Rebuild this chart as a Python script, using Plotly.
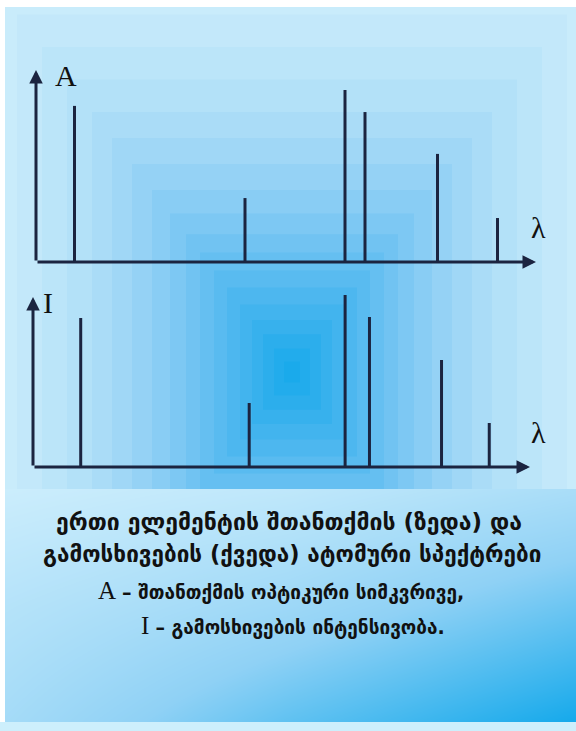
import plotly.graph_objects as go

# ── Data ───────────────────────────────────────────────────────────────────────

# absorption spectrum (top): line positions (wavelength, a.u.) and optical density A
lam_absorb = [7.7, 41.8, 61.8, 65.8, 80.3, 92.3]
absorb = [81.3, 33.3, 89.6, 78.1, 56.3, 22.9]

# emission spectrum (bottom): line positions and intensity I
lam_emit = [9.6, 43.5, 62.8, 67.7, 82.2, 91.8]
emit = [87.6, 37.6, 101.2, 88.2, 62.9, 25.9]

caption_lines = [
    "ერთი ელემენტის შთანთქმის (ზედა) და",
    "გამოსხივების (ქვედა) ატომური სპექტრები",
]
legend_lines = [
    ("A", "შთანთქმის ოპტიკური სიმკვრივე,"),
    ("I", "გამოსხივების ინტენსივობა."),
]

# ── Helpers ────────────────────────────────────────────────────────────────────

W, H = 576, 731
INK = "#1b2440"
SERIF = "Liberation Serif"
GEO = "DejaVu Sans"


def px(x):
    return x / W


def py(y):
    return 1 - y / H


def sticks(xs, ys):
    X, Y = [], []
    for x, y in zip(xs, ys):
        X += [x, x, None]
        Y += [0, y, None]
    return X, Y


def axis_arrow(xr, yr, x, y, ax, ay):
    return dict(xref=xr, yref=yr, axref=xr, ayref=yr, x=x, y=y, ax=ax, ay=ay,
                text="", showarrow=True, arrowhead=2, arrowsize=0.9,
                arrowwidth=3, arrowcolor=INK, standoff=0)


def label(text, x, y, size=30, family=SERIF):
    return dict(xref="paper", yref="paper", x=px(x), y=py(y), text=text,
                showarrow=False, xanchor="center", yanchor="middle",
                font=dict(family=family, size=size, color="#111111"))


# ── Background: square gradient bands (half-width px, colour) ──────────────────

cx, cy, ratio = 292, 372, 1.3
bands = [
    (275, "#c3e8fa"), (250, "#bbe5f9"), (225, "#b3e1f8"), (200, "#aadcf7"),
    (180, "#a0d7f6"), (160, "#95d2f5"), (140, "#89cdf4"), (122, "#7dc8f3"),
    (106, "#71c3f2"), (92, "#65bff1"), (78, "#59bbf0"), (65, "#4db7ef"),
    (52, "#42b4ee"), (40, "#37b1ed"), (29, "#2caeec"), (18, "#22acec"),
    (8, "#1aaaeb"),
]

shapes = [
    dict(type="rect", xref="paper", yref="paper", x0=px(5), x1=1,
         y0=py(722), y1=py(7), fillcolor="#c9ecfb", line_width=0, layer="below"),
    dict(type="rect", xref="paper", yref="paper", x0=0, x1=1,
         y0=0, y1=py(722), fillcolor="#cdeffc", line_width=0, layer="below"),
]
for half, col in bands:
    shapes.append(dict(
        type="rect", xref="paper", yref="paper",
        x0=px(max(cx - half, 5)), x1=px(min(cx + half, W)),
        y0=py(min(cy + half * ratio, 722)), y1=py(max(cy - half * ratio, 7)),
        fillcolor=col, line_width=0, layer="below"))

# ── Figure ─────────────────────────────────────────────────────────────────────

fig = go.Figure()

# caption panel gradient
fig.add_trace(go.Heatmap(
    x=[0, 1, 2], y=[0, 1, 2],
    z=[[0.32, 0.70, 1.00],
       [0.18, 0.38, 0.65],
       [0.00, 0.10, 0.28]],
    zmin=0, zmax=1, zsmooth="best", showscale=False, hoverinfo="skip",
    colorscale=[[0, "#cbedfc"], [0.5, "#8fd1f5"], [1, "#15a9eb"]],
    xaxis="x3", yaxis="y3"))

X, Y = sticks(lam_absorb, absorb)
fig.add_trace(go.Scatter(x=X, y=Y, mode="lines", name="A",
                         line=dict(color=INK, width=3), hoverinfo="skip"))
X, Y = sticks(lam_emit, emit)
fig.add_trace(go.Scatter(x=X, y=Y, mode="lines", name="I",
                         line=dict(color=INK, width=3), hoverinfo="skip",
                         xaxis="x2", yaxis="y2"))

annotations = [
    axis_arrow("x", "y", 0, 100, 0, 0),
    axis_arrow("x", "y", 100, 0, 0, 0),
    axis_arrow("x2", "y2", 0, 100, 0, 0),
    axis_arrow("x2", "y2", 100, 0, 0, 0),
    label("A", 66, 75),
    label("λ", 538, 227),
    label("I", 48, 302),
    label("λ", 538, 432),
    label(f"<b>{caption_lines[0]}</b>", 289, 522, 23, GEO),
    label(f"<b>{caption_lines[1]}</b>", 292, 554, 22.5, GEO),
]
for (sym, txt), (x, y) in zip(legend_lines, [(281, 590), (293, 625)]):
    annotations.append(label(
        f"<span style='font-family:{SERIF};font-size:25px'>{sym}</span> <b>– {txt}</b>",
        x, y, 19, GEO))

hidden = dict(visible=False, fixedrange=True)
fig.update_layout(
    width=W, height=H,
    margin=dict(l=0, r=0, t=0, b=0),
    paper_bgcolor="white",
    plot_bgcolor="rgba(0,0,0,0)",
    showlegend=False,
    shapes=shapes,
    annotations=annotations,
    xaxis=dict(domain=[px(36), px(536)], range=[0, 100], **hidden),
    yaxis=dict(domain=[py(262), py(70)], range=[0, 100], **hidden),
    xaxis2=dict(domain=[px(33), px(530)], range=[0, 100], anchor="y2", **hidden),
    yaxis2=dict(domain=[py(467), py(288.5)], range=[0, 105], anchor="x2", **hidden),
    xaxis3=dict(domain=[px(5), 1], range=[0, 2], anchor="y3", **hidden),
    yaxis3=dict(domain=[py(722), py(489)], range=[0, 2], anchor="x3", **hidden),
)

fig.write_html("out.html", config={"displayModeBar": False},
               post_script="document.body.style.margin='0';")
